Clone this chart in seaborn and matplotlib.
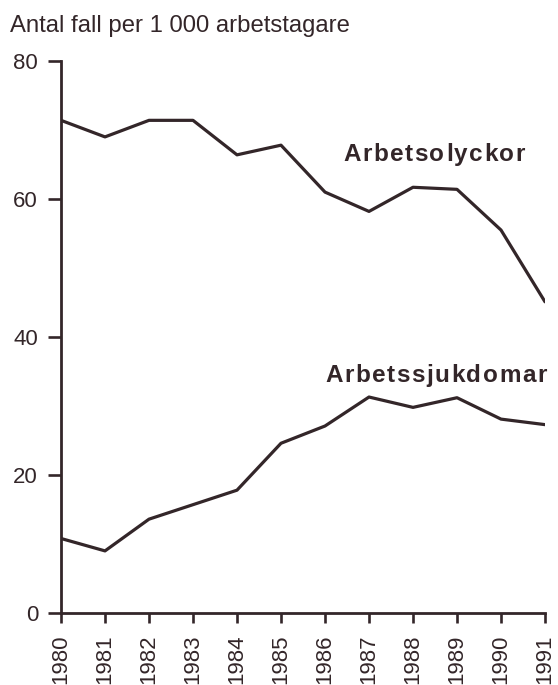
import matplotlib
matplotlib.use("Agg")
import matplotlib.pyplot as plt
import seaborn as sns
import pandas as pd
from matplotlib import font_manager, ft2font
from matplotlib.font_manager import FontProperties

years = list(range(1980, 1992))
arbetsolyckor = [71.4, 69.0, 71.4, 71.4, 66.4, 67.8, 61.0, 58.2, 61.7, 61.4, 55.5, 45.1]
arbetssjukdomar = [10.8, 9.0, 13.6, 15.7, 17.8, 24.6, 27.1, 31.3, 29.8, 31.2, 28.1, 27.3]
y_ticks = [0, 20, 40, 60, 80]
title = "Antal fall per 1 000 arbetstagare"

ink = "#332629"
family = "Liberation Sans"

sns.set_style("white")
plt.rcParams["font.family"] = [family, "DejaVu Sans"]

df = pd.DataFrame({
    "year": years * 2,
    "value": arbetsolyckor + arbetssjukdomar,
    "series": ["Arbetsolyckor"] * len(years) + ["Arbetssjukdomar"] * len(years),
})

fig = plt.figure(figsize=(5.58, 6.85), dpi=100)
ax = fig.add_axes([61 / 558, 1 - 613 / 685, (545 - 61) / 558, (613 - 61) / 685])

sns.lineplot(data=df, x="year", y="value", units="series", estimator=None,
             color=ink, linewidth=2.3, ax=ax, legend=False)

ax.set_xlim(1980, 1991)
ax.set_ylim(0, 80)
ax.set_xticks(years)
ax.set_xticklabels([str(y) for y in years], rotation=90, fontsize=16, color=ink)
ax.set_yticks(y_ticks)
ax.set_yticklabels([str(v) for v in y_ticks], fontsize=16, color=ink)
ax.set_xlabel("")
ax.set_ylabel("")

for side in ("top", "right"):
    ax.spines[side].set_visible(False)
for side in ("left", "bottom"):
    ax.spines[side].set_color(ink)
    ax.spines[side].set_linewidth(2.0)
    ax.spines[side].set_capstyle("projecting")

ax.tick_params(axis="y", left=True, direction="out", length=9.5, width=1.9,
               color=ink, pad=7)
ax.tick_params(axis="x", bottom=True, direction="out", length=7.5, width=1.9,
               color=ink, pad=8)

fig.text(10 / 558, 1 - 32 / 685, title, fontsize=17.2, color=ink,
         va="baseline", ha="left")


def spaced_label(x, y, s, size, tracking):
    """Bold text centred on (x, y) baseline, with extra space between letters."""
    path = font_manager.findfont(FontProperties(family=family, weight="bold"))
    font = ft2font.FT2Font(path)
    font.set_size(size, 72)
    advances = [font.load_char(ord(ch)).linearHoriAdvance / 65536 for ch in s]
    total = sum(advances) + tracking * (len(s) - 1)
    offset = -total / 2
    for ch, adv in zip(s, advances):
        ax.annotate(ch, xy=(x, y), xycoords="data", xytext=(offset, 0),
                    textcoords="offset points", ha="left", va="baseline",
                    fontsize=size, fontweight="bold", color=ink)
        offset += adv + tracking


spaced_label(1988.48, 65.5, "Arbetsolyckor", 17.5, 1.1)
spaced_label(1988.52, 33.5, "Arbetssjukdomar", 17.5, 1.1)

fig.savefig("out.png", dpi=100, facecolor="white")
